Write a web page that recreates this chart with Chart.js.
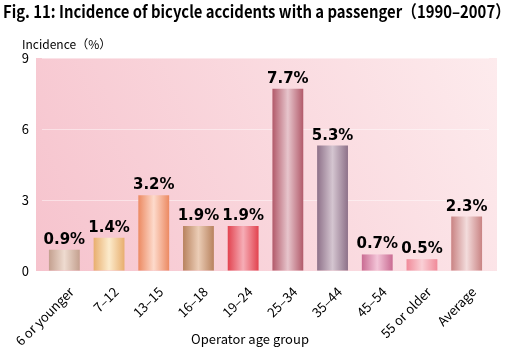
<!DOCTYPE html>
<html>
<head>
<meta charset="utf-8">
<script src="https://cdn.jsdelivr.net/npm/chart.js@4.4.1/dist/chart.umd.min.js"></script>
<style>
  html, body { margin: 0; padding: 0; background: #fff; }
  #wrap { width: 513px; height: 347px; }
</style>
</head>
<body>
<div id="wrap"><canvas id="chart" width="513" height="347"></canvas></div>
<script>
// data
const ageGroups = ['6 or younger', '7–12', '13–15', '16–18', '19–24', '25–34', '35–44', '45–54', '55 or older', 'Average'];
const incidence = [0.9, 1.4, 3.2, 1.9, 1.9, 7.7, 5.3, 0.7, 0.5, 2.3];
const yTicks = [0, 3, 6, 9];

// bar colours: edge / middle of each tube
const edgeColors = ['#c4a08f', '#e8ae6e', '#ec8a62', '#b8825e', '#e2434f', '#b25a6a', '#8e7189', '#c96b92', '#f08a99', '#c98383'];
const midColors = ['#eedbd0', '#fcebcc', '#fddacb', '#ebcdb6', '#f6adb6', '#e7c5cc', '#d4c5d0', '#f3c5d8', '#fad0d6', '#f3dcdc'];

const titleText = 'Fig. 11: Incidence of bicycle accidents with a passenger（1990–2007）';
const jpFont = '"Noto Sans CJK JP", "Noto Sans", sans-serif';

// Gradient for one bar, built from the x scale
function barFill(context) {
  const chart = context.chart;
  const area = chart.chartArea;
  const i = context.dataIndex;
  if (!area || i === undefined) return edgeColors[0];
  const xs = chart.scales.x;
  const cx = xs.getPixelForValue(i);
  const half = (area.width / ageGroups.length) * 0.69 / 2;
  const g = chart.ctx.createLinearGradient(cx - half, 0, cx + half, 0);
  g.addColorStop(0, edgeColors[i]);
  g.addColorStop(0.5, midColors[i]);
  g.addColorStop(1, edgeColors[i]);
  return g;
}

// Pink background behind the plot
const backdrop = {
  id: 'backdrop',
  beforeDraw(chart) {
    const { ctx, chartArea } = chart;
    const left = chartArea.left - 6;
    const right = chartArea.right + 8;
    const g = ctx.createLinearGradient(left, chartArea.bottom, right, chartArea.top);
    g.addColorStop(0, '#f6c3cd');
    g.addColorStop(1, '#fdebed');
    ctx.save();
    ctx.fillStyle = g;
    ctx.fillRect(left, chartArea.top, right - left, chartArea.bottom - chartArea.top);
    ctx.restore();
  }
};

// Texts: title, axis names, value labels
const texts = {
  id: 'texts',
  afterDatasetsDraw(chart) {
    const { ctx } = chart;
    ctx.save();
    ctx.fillStyle = '#000';

    // title, squeezed to the width it has in the figure
    ctx.font = 'bold 17px ' + jpFont;
    ctx.textBaseline = 'alphabetic';
    ctx.textAlign = 'left';
    const w = ctx.measureText(titleText).width;
    ctx.save();
    ctx.translate(3, 18);
    ctx.scale(507 / w, 1);
    ctx.fillText(titleText, 0, 0);
    ctx.restore();

    ctx.font = '12px ' + jpFont;
    ctx.fillText('Incidence（%）', 22, 49);

    ctx.font = '13px ' + jpFont;
    ctx.textAlign = 'center';
    ctx.fillText('Operator age group', 250, 344);

    // value labels
    const meta = chart.getDatasetMeta(0);
    ctx.font = 'bold 15px "DejaVu Sans", sans-serif';
    meta.data.forEach((bar, i) => {
      ctx.fillText(incidence[i].toFixed(1) + '%', bar.x, bar.y - 6);
    });
    ctx.restore();
  }
};

new Chart(document.getElementById('chart'), {
  type: 'bar',
  data: {
    labels: ageGroups,
    datasets: [{
      data: incidence,
      backgroundColor: barFill,
      borderWidth: 0,
      barPercentage: 0.69,
      categoryPercentage: 1
    }]
  },
  options: {
    responsive: false,
    animation: false,
    layout: { padding: { top: 58, left: 6, right: 24, bottom: 0 } },
    plugins: {
      legend: { display: false },
      tooltip: { enabled: false }
    },
    scales: {
      x: {
        grid: { display: false },
        border: { display: false },
        ticks: {
          color: '#000',
          font: { family: jpFont, size: 13 },
          minRotation: 45,
          maxRotation: 45,
          padding: 5,
          labelOffset: 7
        },
        afterFit(scale) { scale.height = 76; }
      },
      y: {
        min: 0,
        max: 9,
        afterBuildTicks(scale) { scale.ticks = yTicks.map(v => ({ value: v })); },
        grid: { color: 'rgba(255,255,255,0.45)', lineWidth: 1, drawTicks: false },
        border: { display: false },
        ticks: {
          color: '#000',
          font: { family: jpFont, size: 13 },
          padding: 13
        },
        afterFit(scale) { scale.width = 36; }
      }
    }
  },
  plugins: [backdrop, texts]
});
</script>
</body>
</html>
